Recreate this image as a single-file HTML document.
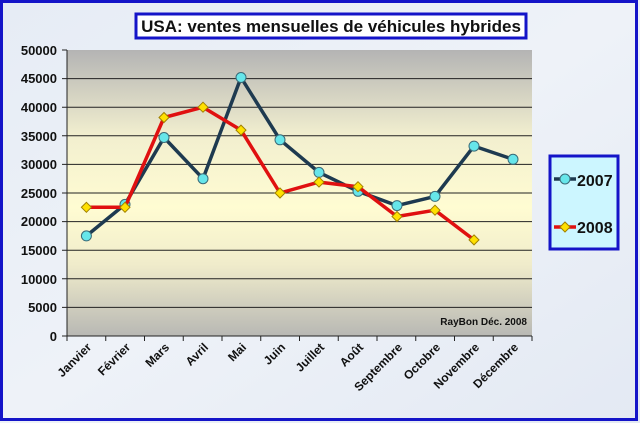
<!DOCTYPE html>
<html><head><style>
body{margin:0;width:640px;height:423px;overflow:hidden;font-family:"Liberation Sans",sans-serif}
</style></head><body>
<svg width="640" height="423" xmlns="http://www.w3.org/2000/svg" font-family="Liberation Sans, sans-serif">
<defs>
<linearGradient id="pg" x1="0" y1="0" x2="0" y2="1">
<stop offset="0" stop-color="#b4b4b4"/>
<stop offset="0.3" stop-color="#f2efcf"/>
<stop offset="0.55" stop-color="#fffcd2"/>
<stop offset="0.75" stop-color="#f0eccb"/>
<stop offset="1" stop-color="#b8b8b4"/>
</linearGradient>
<linearGradient id="bg" x1="0" y1="0" x2="1" y2="1">
<stop offset="0" stop-color="#e6ecf5"/><stop offset="0.5" stop-color="#eef2f8"/><stop offset="1" stop-color="#e3e9f3"/>
</linearGradient>
</defs>
<rect x="0" y="0" width="640" height="423" fill="url(#bg)"/>
<rect x="1.5" y="1.5" width="635" height="418" fill="none" stroke="#1414c8" stroke-width="3"/>
<rect x="136" y="14" width="390" height="24" fill="#fff" stroke="#1414c8" stroke-width="3"/>
<text x="331" y="32" font-size="17" font-weight="bold" text-anchor="middle" fill="#111">USA: ventes mensuelles de véhicules hybrides</text>
<rect x="67" y="50" width="465" height="286" fill="url(#pg)"/>
<g stroke="#222" stroke-width="1">
<line x1="62" y1="50" x2="67" y2="50"/>
<line x1="62" y1="78.6" x2="532" y2="78.6"/><line x1="62" y1="107.2" x2="532" y2="107.2"/>
<line x1="62" y1="135.8" x2="532" y2="135.8"/><line x1="62" y1="164.4" x2="532" y2="164.4"/>
<line x1="62" y1="193" x2="532" y2="193"/><line x1="62" y1="221.6" x2="532" y2="221.6"/>
<line x1="62" y1="250.2" x2="532" y2="250.2"/><line x1="62" y1="278.8" x2="532" y2="278.8"/>
<line x1="62" y1="307.4" x2="532" y2="307.4"/>
<line x1="67" y1="50" x2="67" y2="336"/><line x1="62" y1="336" x2="532" y2="336"/>
<path d="M67,336v5M105.75,336v5M144.5,336v5M183.25,336v5M222,336v5M260.75,336v5M299.5,336v5M338.25,336v5M377,336v5M415.75,336v5M454.5,336v5M493.25,336v5M532,336v5"/>
</g>
<g font-size="13" font-weight="bold" text-anchor="end" fill="#111">
<text x="57" y="55">50000</text><text x="57" y="83">45000</text><text x="57" y="112">40000</text>
<text x="57" y="141">35000</text><text x="57" y="169">30000</text><text x="57" y="198">25000</text>
<text x="57" y="226">20000</text><text x="57" y="255">15000</text><text x="57" y="284">10000</text>
<text x="57" y="312">5000</text><text x="57" y="341">0</text>
</g>
<text x="527" y="325" font-size="10" font-weight="bold" text-anchor="end" fill="#111">RayBon Déc. 2008</text>
<g font-size="12" font-weight="bold" fill="#111" text-anchor="end">
<text transform="translate(92,348) rotate(-45)">Janvier</text>
<text transform="translate(131,348) rotate(-45)">Février</text>
<text transform="translate(170,348) rotate(-45)">Mars</text>
<text transform="translate(209,348) rotate(-45)">Avril</text>
<text transform="translate(247,348) rotate(-45)">Mai</text>
<text transform="translate(286,348) rotate(-45)">Juin</text>
<text transform="translate(325,348) rotate(-45)">Juillet</text>
<text transform="translate(364,348) rotate(-45)">Août</text>
<text transform="translate(403,348) rotate(-45)">Septembre</text>
<text transform="translate(441,348) rotate(-45)">Octobre</text>
<text transform="translate(480,348) rotate(-45)">Novembre</text>
<text transform="translate(519,348) rotate(-45)">Décembre</text>
</g>
<polyline fill="none" stroke="#1e3a50" stroke-width="3.5" stroke-linejoin="round" points="86.4,235.9 125,204.4 164,137.5 203,178.7 241,77.5 280,139.8 319,172.4 358,191.3 397,205.6 435,196.4 474,146.1 513,159.3"/>
<g fill="#66e6ea" stroke="#3a6a78" stroke-width="1">
<circle cx="86.4" cy="235.9" r="5"/><circle cx="125" cy="204.4" r="5"/><circle cx="164" cy="137.5" r="5"/><circle cx="203" cy="178.7" r="5"/><circle cx="241" cy="77.5" r="5"/><circle cx="280" cy="139.8" r="5"/><circle cx="319" cy="172.4" r="5"/><circle cx="358" cy="191.3" r="5"/><circle cx="397" cy="205.6" r="5"/><circle cx="435" cy="196.4" r="5"/><circle cx="474" cy="146.1" r="5"/><circle cx="513" cy="159.3" r="5"/>
</g>
<polyline fill="none" stroke="#e01010" stroke-width="3.5" stroke-linejoin="round" points="86.4,207.3 125,207.3 164,117.5 203,107.2 241,130.1 280,193 319,182.1 358,186.7 397,216.5 435,210.2 474,239.9"/>
<g fill="#ffe000" stroke="#a08000" stroke-width="1">
<path d="M86.4,202.3l5,5-5,5-5-5z"/><path d="M125,202.3l5,5-5,5-5-5z"/><path d="M164,112.5l5,5-5,5-5-5z"/><path d="M203,102.2l5,5-5,5-5-5z"/><path d="M241,125.1l5,5-5,5-5-5z"/><path d="M280,188l5,5-5,5-5-5z"/><path d="M319,177.1l5,5-5,5-5-5z"/><path d="M358,181.7l5,5-5,5-5-5z"/><path d="M397,211.5l5,5-5,5-5-5z"/><path d="M435,205.2l5,5-5,5-5-5z"/><path d="M474,234.9l5,5-5,5-5-5z"/>
</g>
<rect x="550" y="156" width="68" height="93" fill="#ccf6ff" stroke="#1414c8" stroke-width="3"/>
<line x1="554" y1="179" x2="576" y2="179" stroke="#1e3a50" stroke-width="3.5"/>
<circle cx="565" cy="179" r="5" fill="#66e6ea" stroke="#3a6a78"/>
<text x="577" y="186" font-size="16" font-weight="bold" fill="#111">2007</text>
<line x1="554" y1="227" x2="576" y2="227" stroke="#e01010" stroke-width="3.5"/>
<path d="M565,222l5,5-5,5-5-5z" fill="#ffe000" stroke="#a08000"/>
<text x="577" y="233" font-size="16" font-weight="bold" fill="#111">2008</text>
</svg>
</body></html>
